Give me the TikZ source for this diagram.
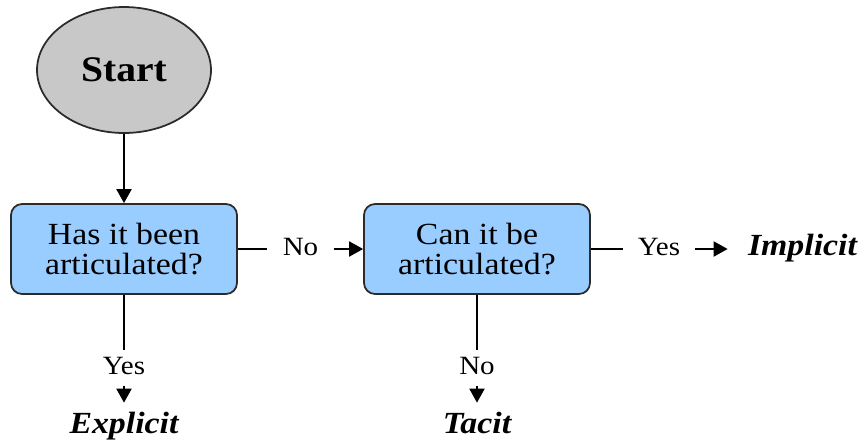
\documentclass[tikz,border=0pt]{standalone}
\usepackage{fontspec}
\setmainfont{Liberation Serif}[FakeStretch=1.1]
\usepackage{xcolor}
\usetikzlibrary{arrows.meta}
\usetikzlibrary{shapes.geometric}

\definecolor{boxblue}{HTML}{99CCFF}
\definecolor{startgrey}{HTML}{C8C8C8}
\definecolor{edgegrey}{HTML}{2B2B2B}

\begin{document}
\begin{tikzpicture}[x=0.02cm, y=-0.02cm,
	startnode/.style={ellipse, draw=edgegrey, line width=1pt, fill=startgrey, minimum width=3.48cm, minimum height=2.52cm, font=\fontsize{20.5}{22}\selectfont\bfseries},
	question/.style={rectangle, rounded corners=0.22cm, draw=edgegrey, line width=1pt, fill=boxblue, minimum width=4.52cm, minimum height=1.8cm, align=center, font=\fontsize{17.5}{17.5}\selectfont},
	answer/.style={inner xsep=0.3cm, inner ysep=0.12cm, text height=10pt, text depth=2.8pt, font=\fontsize{15}{16}\selectfont},
	result/.style={inner sep=0.2cm, text height=11.5pt, text depth=4.4pt, font=\fontsize{17.5}{18}\selectfont\bfseries\itshape},
	link/.style={line width=1.1pt, color=black},
	flow/.style={line width=1.1pt, color=black, -{Triangle[length=0.28cm, width=0.3cm]}}]
	\useasboundingbox (0,0) rectangle (866,441);
	%
	% start and the two questions
	\node[startnode] (start) at (124,70) {Start};
	\node[question] (q1) at (124,249) {Has it been\\articulated?};
	\node[question] (q2) at (477,249) {Can it be\\articulated?};
	%
	% answers
	\node[answer] (no1) at (300.5,249) {No};
	\node[answer] (yes2) at (659,249) {Yes};
	\node[answer] (yes1) at (124,368) {Yes};
	\node[answer] (no2) at (477,368) {No};
	%
	% kinds of knowledge
	\node[result, inner xsep=0.4cm] (implicit) at (802.5,249) {Implicit};
	\node[result] (explicit) at (124,427) {Explicit};
	\node[result] (tacit) at (477,427) {Tacit};
	%
	% connectors
	\draw[flow] (start) -- (q1);
	%
	\draw[link] (q1.east) -- (no1.west);
	\draw[flow] (no1.east) -- (q2.west);
	%
	\draw[link] (q2.east) -- (yes2.west);
	\draw[flow] (yes2.east) -- (implicit.west);
	%
	\draw[link] (q1.south) -- (yes1.north);
	\draw[flow] (yes1.south) -- (explicit.north);
	%
	\draw[link] (q2.south) -- (no2.north);
	\draw[flow] (no2.south) -- (tacit.north);
\end{tikzpicture}
\end{document}
